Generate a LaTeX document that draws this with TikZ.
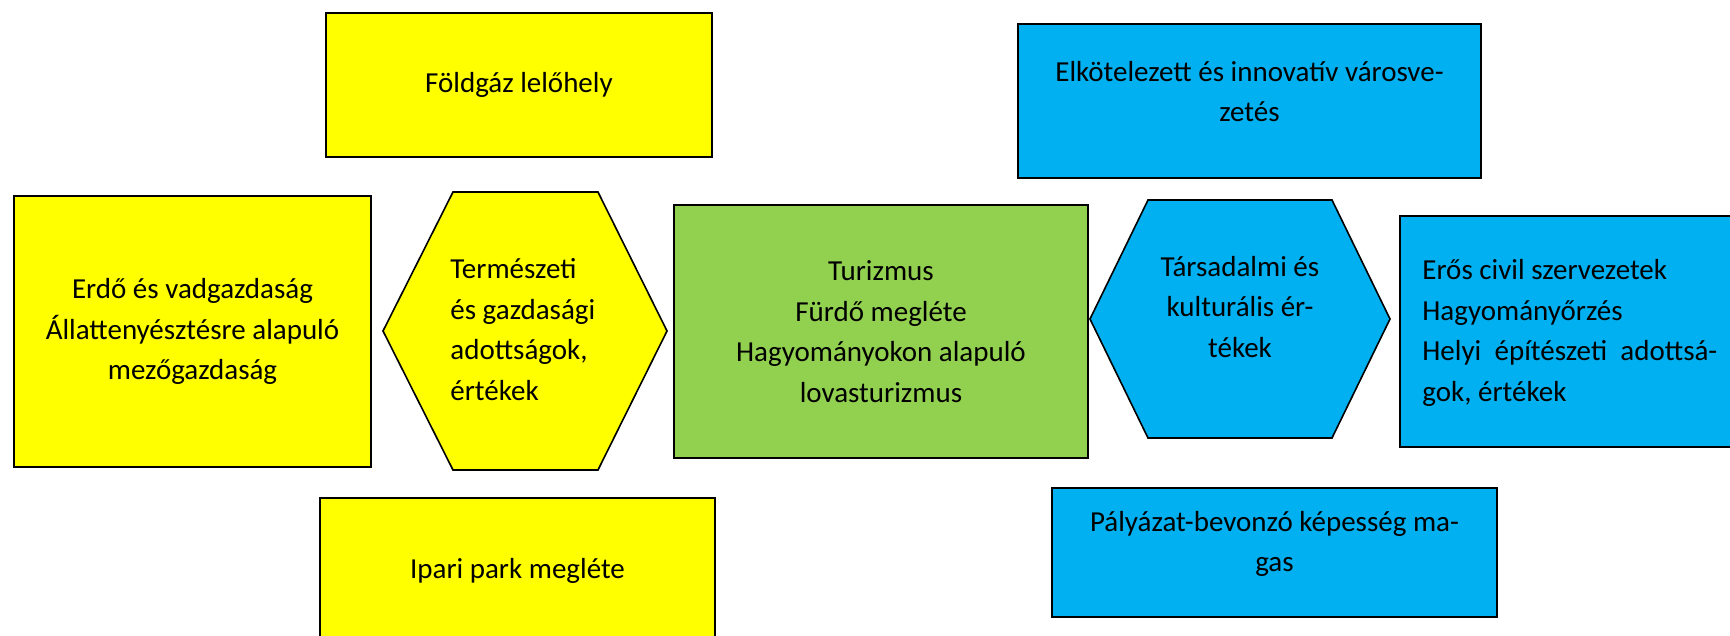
\documentclass[tikz,border=0pt]{standalone}
\usepackage{fontspec}
\setmainfont{Carlito}
\usetikzlibrary{positioning}
\definecolor{sunfill}{HTML}{FFFF00}
\definecolor{leaffill}{HTML}{92D050}
\definecolor{skyfill}{HTML}{00B0F0}
\tikzset{
  box/.style    = {rectangle, draw=black, line width=0.8pt, align=center,
                   inner sep=0pt, font=\fontsize{14.5}{20.3}\selectfont},
  sunbox/.style = {box, fill=sunfill},
  leafbox/.style= {box, fill=leaffill},
  skybox/.style = {box, fill=skyfill},
  hexline/.style= {draw=black, line width=0.8pt, line join=miter},
  txt/.style    = {inner sep=0pt, align=center, font=\fontsize{14.5}{20.3}\selectfont},
}
\begin{document}
\begin{tikzpicture}[x=0.5pt, y=-0.5pt]
\useasboundingbox (0,0) rectangle (1730,636);
% ---- natural and economic side ----
\node[sunbox, minimum width=193pt, minimum height=72pt] (foldgaz) at (519,85) {Földgáz lelőhely};
\node[sunbox, minimum width=178.5pt, minimum height=135.5pt] (erdo) at (192.5,331.5)
  {Erdő és vadgazdaság\\Állattenyésztésre alapuló\\mezőgazdaság};
\node[sunbox, minimum width=197.5pt, minimum height=82pt,
  label={[txt, yshift=4.5pt]center:Ipari park megléte}] (ipari) at (517.5,580) {};
\draw[hexline, fill=sunfill] (383,331) -- (453,192) -- (598,192) -- (667,331) -- (598,470) -- (453,470) -- cycle;
\node[txt, align=left, anchor=west] (termeszeti) at (450,329.5)
  {Természeti\\és gazdasági\\adottságok,\\értékek};
% ---- centre ----
\node[leafbox, minimum width=207pt, minimum height=126.5pt] (turizmus) at (881,331.5)
  {Turizmus\\Fürdő megléte\\Hagyományokon alapuló\\lovasturizmus};
% ---- social and cultural side ----
\draw[hexline, fill=skyfill] (1090,319) -- (1148,200) -- (1332,200) -- (1390,319) -- (1332,438) -- (1148,438) -- cycle;
\node[txt] (tarsadalmi) at (1240,307) {Társadalmi és\\kulturális ér-\\tékek};
\node[skybox, minimum width=231.5pt, minimum height=77pt,
  label={[txt, yshift=4.75pt]center:{Elkötelezett és innovatív városve-\\zetés}}] (elkot) at (1249.5,101) {};
\node[skybox, minimum width=222.5pt, minimum height=64.5pt,
  label={[txt, yshift=4.25pt]center:{Pályázat-bevonzó képesség ma-\\gas}}] (palyazat) at (1274.5,552.5) {};
\node[skybox, minimum width=180pt, minimum height=115.5pt] (civil) at (1580,331.5) {};
\node[txt, align=justify, text width=147.5pt, anchor=west] (civiltxt) at (1422,333)
  {Erős civil szervezetek\\Hagyományőrzés\\Helyi építészeti adottsá-\linebreak gok, értékek};
\end{tikzpicture}
\end{document}
